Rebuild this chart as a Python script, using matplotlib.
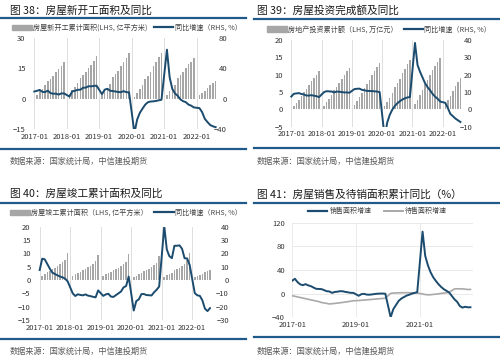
import numpy as np
import matplotlib
matplotlib.use("Agg")
import matplotlib.pyplot as plt
from matplotlib.lines import Line2D
from matplotlib.patches import Patch

plt.rcParams['font.family'] = ['Noto Sans CJK SC', 'DejaVu Sans']

# --- данные: 2017-01 ... 2022-08, январь не публикуется (только янв-фев) ---
years = [2017, 2018, 2019, 2020, 2021, 2022]

# рис. 38: новые начала строительства, накопл. (亿平方米) и г/г (%)
start_area = [
    [1.94, 3.72, 5.04, 6.64, 8.60, 9.89, 11.33, 12.97, 14.51, 16.13, 17.87],
    [2.17, 4.12, 5.87, 7.92, 10.27, 11.66, 13.24, 14.96, 16.79, 18.65, 20.93],
    [1.88, 3.95, 5.37, 7.32, 10.53, 12.06, 13.85, 16.06, 17.97, 20.12, 22.72],
    [1.02, 2.81, 4.62, 6.55, 9.76, 11.32, 13.38, 16.00, 18.21, 20.47, 22.44],
    [1.70, 3.61, 5.18, 6.98, 10.10, 11.79, 13.35, 15.29, 16.92, 18.23, 19.89],
    [1.89, 2.98, 3.97, 5.18, 6.60, 7.67, 8.53],
]
start_yoy_first = 9.5
start_yoy = [
    [10.4, 11.6, 9.0, 8.8, 10.6, 7.4, 6.6, 6.7, 5.5, 7.0, 7.0],
    [2.9, 9.7, 10.4, 11.8, 11.8, 14.4, 14.6, 16.4, 16.3, 16.8, 17.2],
    [6.0, 11.9, 13.1, 10.5, 10.1, 9.5, 8.9, 8.6, 10.0, 8.6, 8.5],
    [-44.9, -27.2, -18.4, -12.8, -7.6, -4.5, -3.6, -3.4, -2.8, -2.0, -1.2],
    [64.3, 28.2, 12.8, 6.9, 3.8, -0.9, -3.2, -4.5, -7.7, -9.1, -11.4],
    [-12.2, -17.5, -26.3, -30.6, -34.4, -36.1, -37.2],
]

# рис. 39: инвестиции в недвижимость, накопл. (万亿元) и г/г (%)
invest = [
    [0.95, 1.93, 2.78, 3.70, 5.06, 5.96, 7.06, 8.06, 9.02, 10.00, 10.98],
    [1.03, 2.13, 3.03, 4.06, 5.55, 6.51, 7.67, 8.86, 9.93, 11.09, 12.03],
    [1.20, 2.38, 3.42, 4.64, 6.16, 7.18, 8.41, 9.81, 10.93, 12.14, 13.22],
    [1.01, 2.20, 3.36, 4.59, 6.28, 7.50, 8.81, 10.35, 11.66, 12.95, 14.14],
    [1.39, 2.76, 4.02, 5.43, 7.22, 8.46, 9.84, 11.26, 12.49, 13.75, 14.76],
    [1.45, 2.77, 3.92, 5.21, 6.83, 7.95, 9.08],
]
invest_yoy_first = 7.3
invest_yoy = [
    [8.9, 9.1, 9.3, 8.8, 8.5, 7.9, 7.9, 8.1, 7.8, 7.5, 7.0],
    [9.9, 10.4, 10.3, 10.2, 9.7, 10.2, 10.1, 9.9, 9.7, 9.7, 9.5],
    [11.6, 11.8, 11.9, 11.2, 10.9, 10.6, 10.5, 10.5, 10.3, 10.2, 9.9],
    [-16.3, -7.7, -3.3, -0.3, 1.9, 3.4, 4.6, 5.6, 6.3, 6.8, 7.0],
    [38.3, 25.6, 21.6, 18.3, 15.0, 12.7, 10.9, 8.8, 7.2, 6.0, 4.4],
    [3.7, 0.7, -2.7, -4.0, -5.4, -6.4, -7.4],
]

# рис. 40: ввод в эксплуатацию, накопл. (亿平方米) и г/г (%)
finish_area = [
    [1.59, 2.34, 2.94, 3.50, 4.08, 4.67, 5.22, 5.96, 6.59, 7.62, 10.15],
    [1.53, 2.11, 2.63, 3.17, 3.75, 4.28, 4.76, 5.42, 6.03, 6.97, 9.36],
    [1.39, 2.14, 2.56, 2.95, 3.66, 4.09, 4.66, 5.32, 5.92, 6.92, 9.59],
    [1.04, 1.62, 2.11, 2.61, 3.23, 3.61, 4.12, 4.73, 5.52, 6.31, 9.12],
    [1.27, 1.94, 2.35, 2.77, 3.66, 4.10, 4.46, 5.18, 6.07, 7.34, 10.14],
    [1.08, 1.68, 2.00, 2.38, 2.86, 3.28, 3.67],
]
finish_yoy_first = 7.5
finish_yoy = [
    [16.0, 15.5, 12.0, 8.5, 5.5, 4.5, 3.5, 2.6, 2.0, 1.0, -1.0],
    [-10.0, -12.0, -10.7, -11.2, -11.5, -10.8, -11.7, -12.1, -12.6, -13.0, -7.8],
    [-11.9, -10.8, -10.3, -12.4, -12.7, -11.3, -10.0, -8.6, -5.5, -4.5, 2.6],
    [-22.9, -15.8, -14.5, -10.6, -10.5, -11.3, -11.4, -11.6, -9.2, -7.3, -4.9],
    [40.4, 22.9, 17.9, 16.4, 25.7, 25.7, 26.0, 23.4, 16.3, 16.2, 11.2],
    [-9.8, -11.5, -11.9, -15.3, -21.5, -23.3, -21.1],
]

# рис. 41: продажи и площадь к продаже, накопл. г/г (%)
sales_first = 22.0
sales_yoy = [
    [25.1, 19.5, 15.7, 14.3, 16.1, 14.0, 12.7, 10.3, 8.2, 7.9, 7.7],
    [4.1, 3.6, 1.3, 2.9, 3.3, 4.2, 4.0, 2.9, 2.2, 1.4, 1.3],
    [-3.6, -0.9, -0.3, -1.6, -1.8, -1.3, -0.6, -0.1, 0.1, 0.2, -0.1],
    [-39.9, -26.3, -19.3, -12.3, -8.4, -5.8, -3.3, -1.8, 0.0, 1.3, 2.6],
    [104.9, 63.8, 48.1, 36.3, 27.7, 21.5, 15.9, 11.3, 7.5, 4.8, 1.9],
    [-9.6, -13.8, -20.9, -23.6, -22.2, -23.1, -23.0],
]
stock_first = -3.5
stock_yoy = [
    [-4.5, -5.5, -6.5, -7.5, -8.5, -9.5, -10.5, -11.5, -12.5, -13.5, -15.0],
    [-16.5, -17.5, -17.0, -16.5, -16.0, -15.4, -14.8, -14.2, -13.5, -12.8, -12.0],
    [-11.6, -11.2, -10.9, -10.5, -10.1, -9.7, -9.3, -8.9, -8.5, -8.1, -7.7],
    [0.5, 1.0, 1.2, 1.4, 1.5, 1.6, 1.6, 1.5, 1.4, 1.2, 1.0],
    [-0.5, -1.5, -2.0, -1.8, -1.3, -0.8, -0.2, 0.4, 1.0, 1.6, 2.3],
    [8.0, 8.2, 8.2, 8.0, 7.6, 7.0, 7.2],
]

SOURCE = "数据来源：国家统计局，中信建投期货"


def by_month(vals, first=np.nan):
    # Feb..Dec по годам -> помесячный ряд, январь = nan
    out = [first]
    for i, v in enumerate(vals):
        if i > 0:
            out.append(np.nan)
        out.extend(v)
    return np.array(out, dtype=float)


BLUE = '#1B4B6E'
BAR = '#A6A6A6'
GREY_LINE = '#A9A9A9'
GRID = '#D9D9D9'
RULE = '#1F5A8A'
TICK = '#333333'
TS = 5.5  # размер подписей осей

W, H = 500, 358
fig = plt.figure(figsize=(W / 100, H / 100), dpi=100)

n = len(by_month(start_area))
x = np.arange(n)
year_pos = [12 * i for i in range(len(years))]
year_lbl = [f"{y}-01" for y in years]


def box(l, t, r, b):
    return [l / W, 1 - b / H, (r - l) / W, (b - t) / H]


def header(x0, x1, ty, tx, title, ry):
    fig.text(tx / W, 1 - ty / H, title, fontsize=7.7, color='#1a1a1a', va='center', ha='left')
    fig.add_artist(Line2D([x0 / W, x1 / W], [1 - ry / H] * 2, transform=fig.transFigure,
                          color=RULE, lw=1.6))


def footer(x0, x1, ry, tx, ty):
    fig.add_artist(Line2D([x0 / W, x1 / W], [1 - ry / H] * 2, transform=fig.transFigure,
                          color=RULE, lw=1.6))
    fig.text(tx / W, 1 - ty / H, SOURCE, fontsize=5.9, color='#595959', va='center',
             ha='left', style='italic')


def dual(rect, bars, line, lyl, lyt, ryl, ryt, lpad, rpad):
    ax = fig.add_axes(rect)
    ok = ~np.isnan(bars)
    ax.bar(x[ok], bars[ok], width=0.6, color=BAR, zorder=2)
    ax.set_xlim(-0.5, 67.5)
    ax.set_ylim(*lyl)
    ax.set_yticks(lyt)
    ax.set_xticks(year_pos, year_lbl)
    ax.grid(axis='x', color=GRID, lw=0.6)
    ax.set_axisbelow(True)
    for s in ax.spines.values():
        s.set_visible(False)
    ax.tick_params(axis='y', length=0, labelsize=TS, colors=TICK, pad=lpad * 0.72)
    ax.tick_params(axis='x', length=0, labelsize=TS, colors=TICK, pad=2.8)

    ax2 = ax.twinx()
    ok = ~np.isnan(line)
    ax2.plot(x[ok], line[ok], color=BLUE, lw=1.4, solid_joinstyle='round')
    ax2.set_ylim(*ryl)
    ax2.set_yticks(ryt)
    for s in ax2.spines.values():
        s.set_visible(False)
    ax2.tick_params(axis='y', length=0, labelsize=TS, colors=TICK, pad=rpad * 0.72)
    plt.setp(ax2.get_yticklabels(), ha='right')
    return ax, ax2


def dual_legend(bar_lbl, lx, ly):
    h = [Patch(color=BAR), Line2D([], [], color=BLUE, lw=1.6)]
    fig.legend(h, [bar_lbl, "同比增速（RHS, %）"], loc='center left',
               bbox_to_anchor=(lx / W, 1 - ly / H), ncol=2, frameon=False, fontsize=5.1,
               labelcolor='#404040', handlelength=2.8, handleheight=0.8, handletextpad=0.15,
               columnspacing=0.9, borderpad=0, borderaxespad=0)


# --- 图 38 ---
header(0, 246, 10.5, 10, "图 38：房屋新开工面积及同比", 17.5)
dual(box(32.95, 37.7, 217.0, 129.3), by_month(start_area), by_month(start_yoy, start_yoy_first),
     (-15, 30), [-15, 0, 15, 30], (-40, 80), [-40, 0, 40, 80], 7.3, 10)
dual_legend("房屋新开工累计面积(LHS, 亿平方米)", 12, 28)
footer(0, 246, 148.5, 10, 161)

# --- 图 39 ---
header(254, 500, 10.5, 257, "图 39：房屋投资完成额及同比", 19)
dual(box(290.0, 40, 461.7, 126.5), by_month(invest), by_month(invest_yoy, invest_yoy_first),
     (-5, 20), [-5, 0, 5, 10, 15, 20], (-10, 40), [-10, 0, 10, 20, 30, 40], 7, 10.3)
dual_legend("房地产投资累计额（LHS, 万亿元）", 266.7, 29.3)
footer(254, 500, 148, 257, 161.7)

# --- 图 40 ---
header(0, 246, 194, 10, "图 40：房屋竣工累计面积及同比", 202.7)
dual(box(38.4, 226.7, 211.3, 320), by_month(finish_area), by_month(finish_yoy, finish_yoy_first),
     (-15, 20), list(range(-15, 21, 5)), (-30, 40), list(range(-30, 41, 10)), 7.7, 17.7)
dual_legend("房屋竣工累计面积（LHS, 亿平方米）", 10, 212.7)
footer(0, 246, 339, 10, 351.7)

# --- 图 41 ---
header(254, 500, 194, 257, "图 41：房屋销售及待销面积累计同比（%）", 202.7)
ax4 = fig.add_axes(box(291.7, 222.7, 473.1, 317.3))
s = by_month(sales_yoy, sales_first)
g = by_month(stock_yoy, stock_first)
ok = ~np.isnan(s)
ax4.plot(x[ok], g[ok], color=GREY_LINE, lw=1.2, label="待售面积增速")
ax4.plot(x[ok], s[ok], color=BLUE, lw=1.4, label="销售面积增速")
ax4.set_xlim(-0.2, 68)
ax4.set_ylim(-40, 120)
ax4.set_yticks([-40, 0, 40, 80, 120])
ax4.set_xticks([0, 24, 48], ["2017-01", "2019-01", "2021-01"])
ax4.grid(color='#E6E6E6', lw=0.6)
ax4.set_axisbelow(True)
for sp in ax4.spines.values():
    sp.set_visible(False)
ax4.tick_params(axis='y', length=0, labelsize=TS, colors=TICK, pad=6.7 * 0.72)
ax4.tick_params(axis='x', length=0, labelsize=TS, colors=TICK, pad=2.8)
hl = [Line2D([], [], color=BLUE, lw=1.6), Line2D([], [], color=GREY_LINE, lw=1.4)]
fig.legend(hl, ["销售面积增速", "待售面积增速"], loc='center', bbox_to_anchor=(377.5 / W, 1 - 211 / H),
           ncol=2, frameon=False, fontsize=5.0, labelcolor='#404040', handlelength=2.8,
           handletextpad=0.3, columnspacing=1.8, borderpad=0, borderaxespad=0)
footer(254, 500, 337, 257, 351.7)

fig.savefig("out.png", dpi=100)
